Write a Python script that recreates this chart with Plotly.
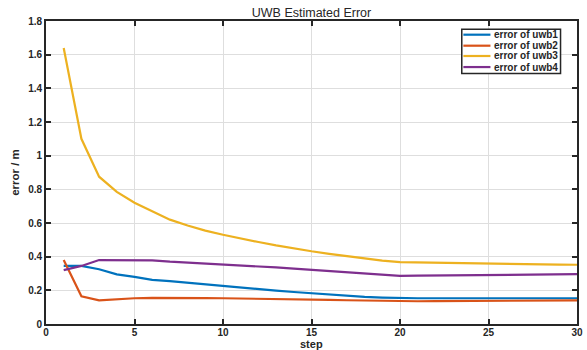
import plotly.graph_objects as go

steps = list(range(1, 31))
uwb1 = [0.345, 0.345, 0.325, 0.295, 0.28, 0.262, 0.255, 0.245, 0.235, 0.225,
        0.215, 0.206, 0.198, 0.19, 0.182, 0.175, 0.168, 0.161, 0.157, 0.153,
        0.153, 0.153, 0.153, 0.153, 0.153, 0.153, 0.153, 0.153, 0.153, 0.153]
uwb2 = [0.38, 0.165, 0.14, 0.148, 0.153, 0.155, 0.156, 0.155, 0.154, 0.153,
        0.152, 0.15, 0.148, 0.146, 0.145, 0.143, 0.141, 0.139, 0.137, 0.135,
        0.135, 0.136, 0.136, 0.137, 0.137, 0.138, 0.138, 0.139, 0.139, 0.14]
uwb3 = [1.64, 1.10, 0.875, 0.785, 0.72, 0.67, 0.62, 0.585, 0.555, 0.53,
        0.507, 0.487, 0.467, 0.448, 0.432, 0.417, 0.403, 0.39, 0.377, 0.367,
        0.365, 0.363, 0.361, 0.359, 0.357, 0.356, 0.355, 0.354, 0.353, 0.352]
uwb4 = [0.32, 0.345, 0.38, 0.38, 0.382, 0.378, 0.37, 0.365, 0.36, 0.355,
        0.349, 0.342, 0.336, 0.329, 0.322, 0.315, 0.308, 0.3, 0.292, 0.286,
        0.287, 0.288, 0.289, 0.29, 0.291, 0.292, 0.293, 0.294, 0.295, 0.296]

names = ["error of uwb1", "error of uwb2", "error of uwb3", "error of uwb4"]
colors = ["#0072BD", "#D95319", "#EDB120", "#7E2F8E"]

FONT = "Liberation Sans, Arial"
DARK = "#262626"

fig = go.Figure()
for name, ys, c in zip(names, [uwb1, uwb2, uwb3, uwb4], colors):
    fig.add_trace(go.Scatter(x=steps, y=ys, mode="lines", name=name,
                             line=dict(color=c, width=2.2), showlegend=False))

axis_common = dict(
    showline=True, linecolor=DARK, linewidth=1.8, mirror="ticks",
    ticks="inside", ticklen=5, tickcolor=DARK, tickwidth=1.5,
    showgrid=True, gridcolor="#dedede", gridwidth=1, zeroline=False,
    automargin=False,
    tickfont=dict(family=FONT, size=10, color=DARK, weight="bold"),
)

fig.update_layout(
    width=587, height=350,
    margin=dict(l=46, r=10, t=21, b=26),
    paper_bgcolor="white", plot_bgcolor="white",
    title=dict(text="UWB Estimated Error", x=0.5, xref="paper", xanchor="center",
               y=1 - 13 / 350, yref="container", yanchor="middle",
               font=dict(family=FONT, size=12.5, color=DARK)),
    xaxis=dict(range=[0, 30], dtick=5, ticklabelstandoff=-2, **axis_common),
    yaxis=dict(range=[0, 1.8], dtick=0.2, tickformat="~g",
               title=dict(text="error / m", standoff=6,
                          font=dict(family=FONT, size=11.5, color=DARK, weight="bold")),
               **axis_common),
    showlegend=False,
)

# x-axis title placed below tick labels
fig.add_annotation(text="step", xref="paper", yref="paper", x=0.5, y=-0.0675,
                   xanchor="center", yanchor="middle", showarrow=False,
                   borderpad=0, font=dict(family=FONT, size=11, color=DARK, weight="bold"))

# manual compact legend (paper coordinates)
box = dict(x0=0.783, x1=0.969, y0=0.827, y1=0.9726)
fig.add_shape(type="rect", xref="paper", yref="paper", **box,
              line=dict(color=DARK, width=1.5), fillcolor="white", layer="above")
entry_y = [0.9548, 0.9185, 0.8845, 0.848]
for name, c, yy in zip(names, colors, entry_y):
    fig.add_shape(type="line", xref="paper", yref="paper",
                  x0=0.786, x1=0.837, y0=yy, y1=yy,
                  line=dict(color=c, width=2.2), layer="above")
    fig.add_annotation(text=name, xref="paper", yref="paper", x=0.839, y=yy,
                       xanchor="left", yanchor="middle", showarrow=False,
                       font=dict(family=FONT, size=10, color=DARK, weight="bold"))

fig.write_html("out.html")
